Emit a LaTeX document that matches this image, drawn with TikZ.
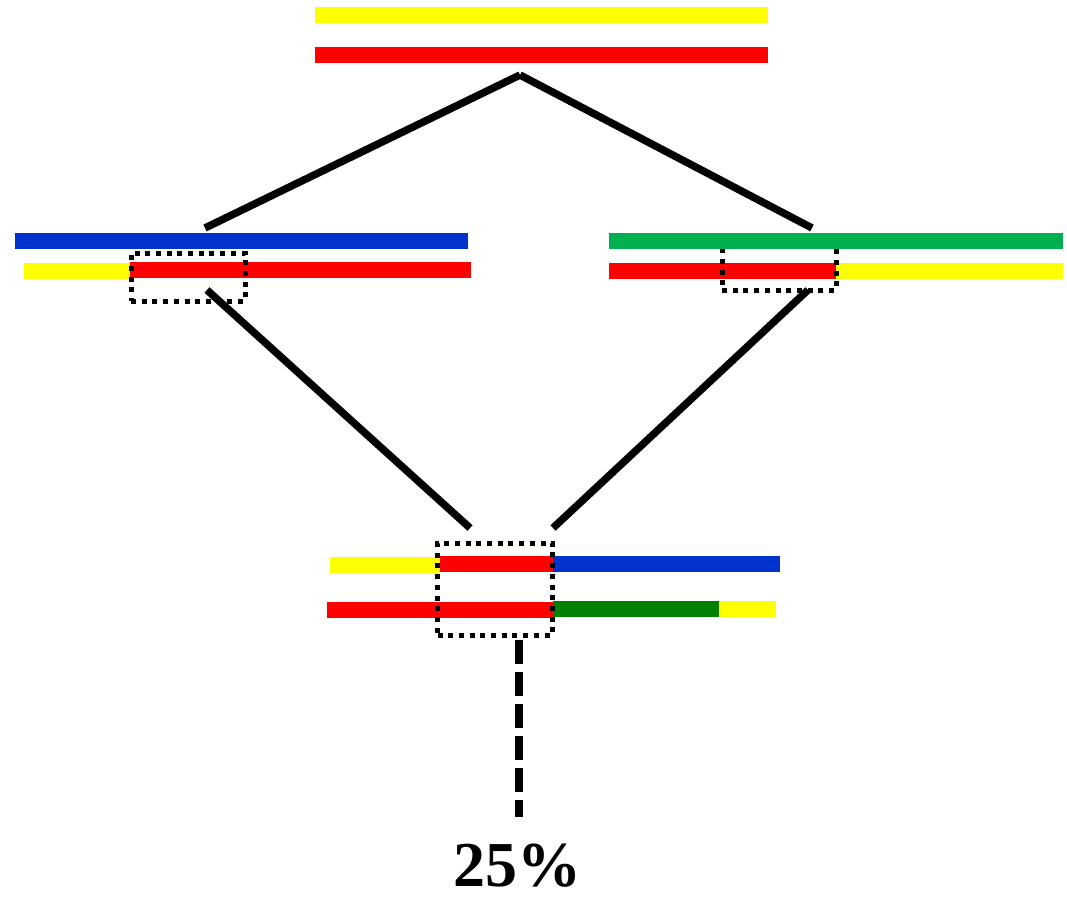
\documentclass[tikz,border=0pt]{standalone}
\usepackage{fontspec}
\setmainfont{Liberation Serif}
\definecolor{ylw}{HTML}{FFFF00}
\definecolor{rd}{HTML}{FF0000}
\definecolor{bl}{HTML}{0033CC}
\definecolor{gn}{HTML}{00B050}
\definecolor{dgn}{HTML}{008000}
\begin{document}
\begin{tikzpicture}[x=1pt,y=-1pt,
  bar/.style={rectangle,inner sep=0pt,outer sep=0pt,minimum height=16pt,draw=none},
  link/.style={line width=7.5pt,line cap=butt},
  focus/.style={line width=5pt,dash pattern=on 5pt off 5.7pt},
  trail/.style={line width=7.5pt,dash pattern=on 23.5pt off 8.5pt}]
\useasboundingbox (0,0) rectangle (1067,896);
% parent pair
\node[bar,fill=ylw,minimum width=453pt] (pY) at (541.5,15) {};
\node[bar,fill=rd,minimum width=453pt] (pR) at (541.5,55) {};
% left child
\node[bar,fill=bl,minimum width=453pt] (lB) at (241.5,241) {};
\node[bar,fill=ylw,minimum width=106pt] (lY) at (77,271) {};
\node[bar,fill=rd,minimum width=341pt] (lR) at (300.5,270) {};
\node[draw,focus,inner sep=0pt,minimum width=114pt,minimum height=48pt] (lBox) at (188,277) {};
% right child
\node[bar,fill=rd,minimum width=227pt] (rR) at (722.5,271) {};
\node[bar,fill=ylw,minimum width=227pt] (rY) at (949.5,270.5) {};
\node[draw,focus,inner sep=0pt,minimum width=114pt,minimum height=46pt] (rBox) at (779,267) {};
\node[bar,fill=gn,minimum width=454pt] (rG) at (836,241) {};
% recombinant offspring
\node[bar,fill=ylw,minimum width=110pt] (oY) at (385,565) {};
\node[bar,fill=rd,minimum width=113pt] (oR) at (496.5,563.5) {};
\node[bar,fill=bl,minimum width=227pt] (oB) at (666,563.5) {};
\node[bar,fill=rd,minimum width=226pt] (oR2) at (439.5,610) {};
\node[bar,fill=dgn,minimum width=167pt] (oG) at (636,609) {};
\node[bar,fill=ylw,minimum width=57pt] (oY2) at (747.5,609) {};
\node[draw,focus,inner sep=0pt,minimum width=115pt,minimum height=92pt] (oBox) at (495,589) {};
% connector ends
\coordinate (apex) at (520,75);
\coordinate (lTop) at (205,228);
\coordinate (rTop) at (812,228);
\coordinate (lLow) at (207,290);
\coordinate (rLow) at (808,290);
\coordinate (oL) at (470,528);
\coordinate (oRr) at (553,528);
\coordinate (dStart) at (519,640);
\coordinate (dEnd) at (519,817);
\draw[link] (lTop) -- (apex);
\draw[link] (apex) -- (rTop);
\draw[link] (lLow) -- (oL);
\draw[link] (rLow) -- (oRr);
\draw[trail] (dStart) -- (dEnd);
\node[anchor=base,inner sep=0pt,font=\fontsize{64}{64}\selectfont\bfseries] (pct) at (517,886) {25\%};
\end{tikzpicture}
\end{document}
